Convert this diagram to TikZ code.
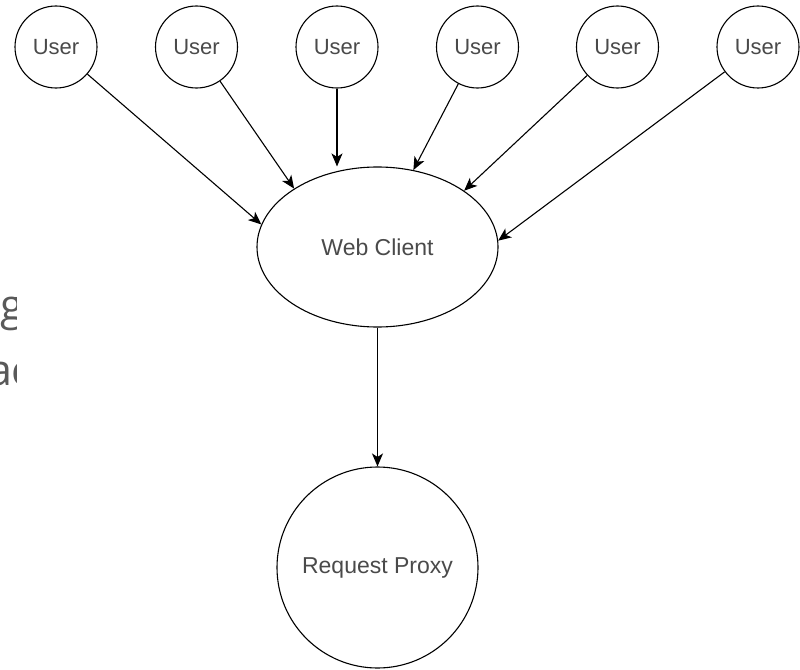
\documentclass[tikz,border=0pt]{standalone}
\usepackage{fontspec}
\setmainfont{Liberation Sans}
\newfontfamily\slidefont{Open Sans}
\usetikzlibrary{shapes.geometric,arrows.meta}
\definecolor{txtgray}{HTML}{4A4A4A}
\definecolor{slidegray}{HTML}{595959}
\begin{document}
\begin{tikzpicture}[x=1pt,y=-1pt,
  usernode/.style={circle,draw,line width=1.1pt,minimum size=82pt,inner sep=0pt,
    text=txtgray,font=\fontsize{22}{24}\selectfont},
  clientnode/.style={ellipse,draw,line width=1.1pt,minimum width=241pt,minimum height=160pt,
    inner sep=0pt,text=txtgray,font=\fontsize{23}{25}\selectfont},
  proxynode/.style={circle,draw,line width=1.1pt,minimum size=201pt,inner sep=0pt,
    text=txtgray,font=\fontsize{23}{25}\selectfont},
  conn/.style={line width=1.1pt,-{Stealth[length=13pt,width=11pt,inset=3.5pt]}},
  slidetext/.style={anchor=base east,inner sep=0pt,text=slidegray,font=\slidefont\fontsize{43}{50}\selectfont}]
\useasboundingbox (0,0) rectangle (800,669);
\fill[white] (0,0) rectangle (800,669);
\begin{scope}
  \clip (0,0) rectangle (16.5,669);
  \node[slidetext] (frag1) at (24.5,320) {ng};
  \node[slidetext] (frag2) at (32.6,385) {ac};
\end{scope}
\foreach \i/\xx in {1/56,2/196.5,3/337,4/477.5,5/617.5,6/758}{
  \node[usernode] (u\i) at (\xx,47) {User};
}
\node[clientnode] (wc) at (377.5,247) {Web Client};
\node[proxynode] (rp) at (377.5,567.5) {Request Proxy};
\draw[conn] (u1) -- (wc.169.7);
\draw[conn] (u2) -- (wc.145.4);
\draw[conn] (u3) -- (u3 |- wc.north);
\draw[conn] (u4) -- (wc.65.8);
\draw[conn] (u5) -- (wc.33.7);
\draw[conn] (u6) -- (wc.3.3);
\draw[conn] (wc) -- (rp);
\end{tikzpicture}
\end{document}
